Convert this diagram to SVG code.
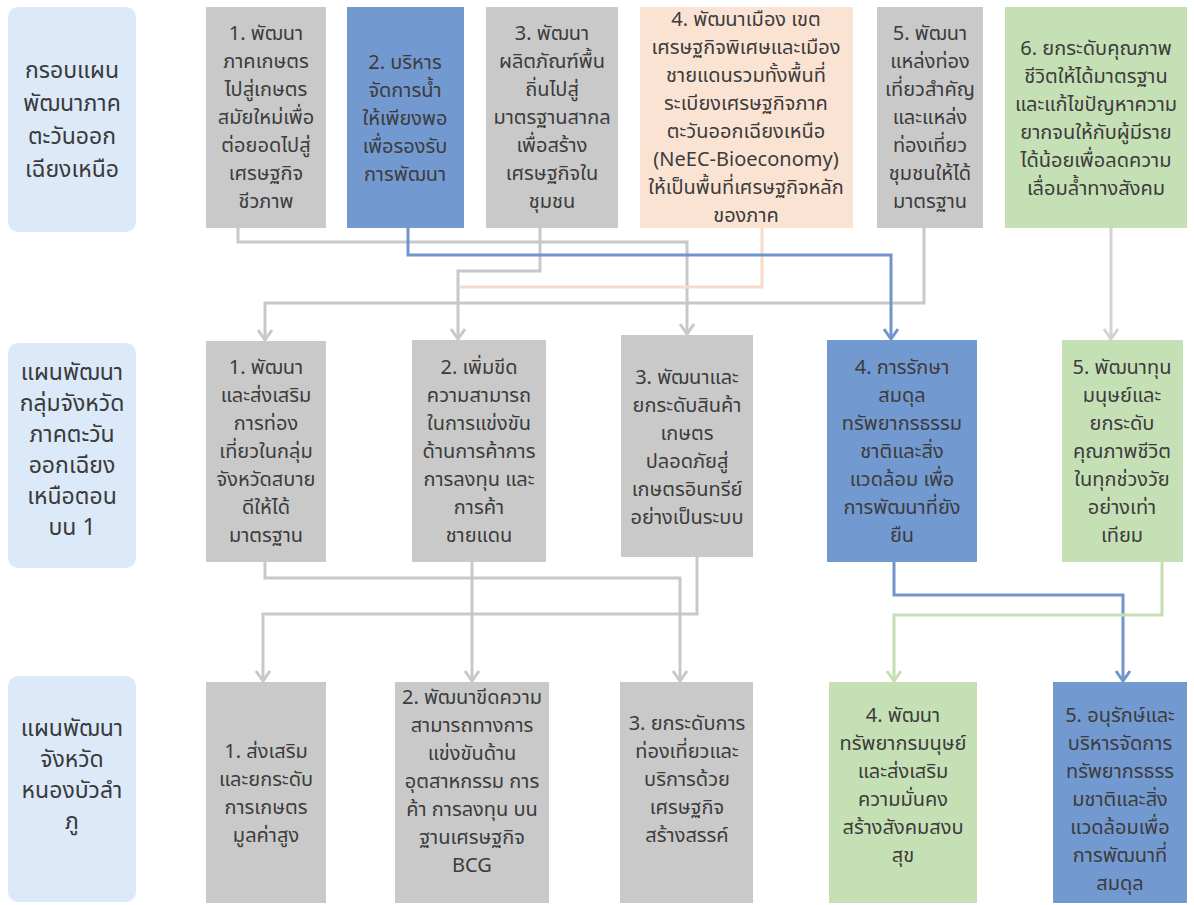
<svg xmlns="http://www.w3.org/2000/svg" width="1194" height="905" viewBox="0 0 1194 905">
<style>
text{font-family:"Noto Sans Thai","Noto Serif Thai","Loma","Garuda","Tahoma","Noto Sans",sans-serif;text-anchor:middle;fill:#3c3c3c}
.t{font-size:20px}
.lb{font-size:23px;fill:#3a3a3a}
.lab{fill:#dce9f9}
.g{fill:#c9c9c9}
.b{fill:#7399d1}
.p{fill:#fbe3d4}
.gr{fill:#c6e0b5}
.cg{fill:none;stroke:#c8c8c8;stroke-width:3}
.cb{fill:none;stroke:#7294cc;stroke-width:3}
.cp{fill:none;stroke:#f6dcc9;stroke-width:3}
.cn{fill:none;stroke:#c5dfb2;stroke-width:3}
.cl{fill:none;stroke:#d2d2d2;stroke-width:3}
</style>
<defs>
<marker id="ag" viewBox="-12 -9 14 18" markerWidth="14" markerHeight="18" markerUnits="userSpaceOnUse" refX="0" refY="0" orient="auto"><path d="M-10,-7 L0,0 L-10,7" fill="none" stroke="#c8c8c8" stroke-width="3"/></marker>
<marker id="ab" viewBox="-12 -9 14 18" markerWidth="14" markerHeight="18" markerUnits="userSpaceOnUse" refX="0" refY="0" orient="auto"><path d="M-10,-7 L0,0 L-10,7" fill="none" stroke="#7294cc" stroke-width="3"/></marker>
<marker id="an" viewBox="-12 -9 14 18" markerWidth="14" markerHeight="18" markerUnits="userSpaceOnUse" refX="0" refY="0" orient="auto"><path d="M-10,-7 L0,0 L-10,7" fill="none" stroke="#c5dfb2" stroke-width="3"/></marker>
<marker id="al" viewBox="-12 -9 14 18" markerWidth="14" markerHeight="18" markerUnits="userSpaceOnUse" refX="0" refY="0" orient="auto"><path d="M-10,-7 L0,0 L-10,7" fill="none" stroke="#d2d2d2" stroke-width="3"/></marker>
</defs>
<rect width="1194" height="905" fill="#ffffff"/>

<g id="connectors">
<path class="cg" d="M238 228 V242 H687 V334" marker-end="url(#ag)"/>
<path class="cp" d="M762 228 V287 H460"/>
<path class="cg" d="M540 228 V271 H458 V339" marker-end="url(#ag)"/>
<path class="cg" d="M924 228 V303 H265 V340" marker-end="url(#ag)"/>
<path class="cl" d="M1111 228 V339" marker-end="url(#al)"/>
<path class="cb" d="M408 228 V255 H891 V339" marker-end="url(#ab)"/>
<path class="cg" d="M265 562 V578 H680 V681" marker-end="url(#ag)"/>
<path class="cg" d="M472 562 V681" marker-end="url(#ag)"/>
<path class="cg" d="M697 557 V614 H263 V681" marker-end="url(#ag)"/>
<path class="cb" d="M894 562 V595 H1123 V681" marker-end="url(#ab)"/>
<path class="cn" d="M1162 562 V615 H894 V681" marker-end="url(#an)"/>
</g>

<g id="label1"><rect class="lab" x="8" y="7" width="128" height="225" rx="10"/>
<text class="lb"><tspan x="72" y="78">กรอบแผน</tspan><tspan x="72" y="111">พัฒนาภาค</tspan><tspan x="72" y="144">ตะวันออก</tspan><tspan x="72" y="177">เฉียงเหนือ</tspan></text></g>

<g id="n11"><rect class="g" x="206" y="7" width="120" height="221"/>
<text class="t"><tspan x="266" y="40">1. พัฒนา</tspan><tspan x="266" y="68">ภาคเกษตร</tspan><tspan x="266" y="96">ไปสู่เกษตร</tspan><tspan x="266" y="124">สมัยใหม่เพื่อ</tspan><tspan x="266" y="152">ต่อยอดไปสู่</tspan><tspan x="266" y="180">เศรษฐกิจ</tspan><tspan x="266" y="208">ชีวภาพ</tspan></text></g>

<g id="n12"><rect class="b" x="347" y="7" width="117" height="221"/>
<text class="t"><tspan x="405" y="69">2. บริหาร</tspan><tspan x="405" y="97">จัดการน้ำ</tspan><tspan x="405" y="125">ให้เพียงพอ</tspan><tspan x="405" y="153">เพื่อรองรับ</tspan><tspan x="405" y="181">การพัฒนา</tspan></text></g>

<g id="n13"><rect class="g" x="486" y="7" width="132" height="221"/>
<text class="t"><tspan x="552" y="40">3. พัฒนา</tspan><tspan x="552" y="68">ผลิตภัณฑ์พื้น</tspan><tspan x="552" y="96">ถิ่นไปสู่</tspan><tspan x="552" y="124">มาตรฐานสากล</tspan><tspan x="552" y="152">เพื่อสร้าง</tspan><tspan x="552" y="180">เศรษฐกิจใน</tspan><tspan x="552" y="208">ชุมชน</tspan></text></g>

<g id="n14"><rect class="p" x="640" y="7" width="213" height="221"/>
<text class="t"><tspan x="746" y="26">4. พัฒนาเมือง เขต</tspan><tspan x="746" y="54">เศรษฐกิจพิเศษและเมือง</tspan><tspan x="746" y="82">ชายแดนรวมทั้งพื้นที่</tspan><tspan x="746" y="110">ระเบียงเศรษฐกิจภาค</tspan><tspan x="746" y="138">ตะวันออกเฉียงเหนือ</tspan><tspan x="746" y="166">(NeEC-Bioeconomy)</tspan><tspan x="746" y="194">ให้เป็นพื้นที่เศรษฐกิจหลัก</tspan><tspan x="746" y="222">ของภาค</tspan></text></g>

<g id="n15"><rect class="g" x="877" y="7" width="106" height="221"/>
<text class="t"><tspan x="930" y="40">5. พัฒนา</tspan><tspan x="930" y="68">แหล่งท่อง</tspan><tspan x="930" y="96">เที่ยวสำคัญ</tspan><tspan x="930" y="124">และแหล่ง</tspan><tspan x="930" y="152">ท่องเที่ยว</tspan><tspan x="930" y="180">ชุมชนให้ได้</tspan><tspan x="930" y="208">มาตรฐาน</tspan></text></g>

<g id="n16"><rect class="gr" x="1005" y="7" width="182" height="221"/>
<text class="t"><tspan x="1096" y="55">6. ยกระดับคุณภาพ</tspan><tspan x="1096" y="83">ชีวิตให้ได้มาตรฐาน</tspan><tspan x="1096" y="111">และแก้ไขปัญหาความ</tspan><tspan x="1096" y="139">ยากจนให้กับผู้มีราย</tspan><tspan x="1096" y="167">ได้น้อยเพื่อลดความ</tspan><tspan x="1096" y="195">เลื่อมล้ำทางสังคม</tspan></text></g>

<g id="label2"><rect class="lab" x="8" y="343" width="128" height="225" rx="10"/>
<text class="lb"><tspan x="72" y="380">แผนพัฒนา</tspan><tspan x="72" y="411">กลุ่มจังหวัด</tspan><tspan x="72" y="442">ภาคตะวัน</tspan><tspan x="72" y="473">ออกเฉียง</tspan><tspan x="72" y="504">เหนือตอน</tspan><tspan x="72" y="535">บน 1</tspan></text></g>

<g id="n21"><rect class="g" x="206" y="341" width="120" height="221"/>
<text class="t"><tspan x="266" y="374">1. พัฒนา</tspan><tspan x="266" y="402">และส่งเสริม</tspan><tspan x="266" y="430">การท่อง</tspan><tspan x="266" y="458">เที่ยวในกลุ่ม</tspan><tspan x="266" y="486">จังหวัดสบาย</tspan><tspan x="266" y="514">ดีให้ได้</tspan><tspan x="266" y="542">มาตรฐาน</tspan></text></g>

<g id="n22"><rect class="g" x="412" y="340" width="134" height="222"/>
<text class="t"><tspan x="479" y="374">2. เพิ่มขีด</tspan><tspan x="479" y="402">ความสามารถ</tspan><tspan x="479" y="430">ในการแข่งขัน</tspan><tspan x="479" y="458">ด้านการค้าการ</tspan><tspan x="479" y="486">การลงทุน และ</tspan><tspan x="479" y="514">การค้า</tspan><tspan x="479" y="542">ชายแดน</tspan></text></g>

<g id="n23"><rect class="g" x="621" y="335" width="132" height="222"/>
<text class="t"><tspan x="687" y="384">3. พัฒนาและ</tspan><tspan x="687" y="412">ยกระดับสินค้า</tspan><tspan x="687" y="440">เกษตร</tspan><tspan x="687" y="468">ปลอดภัยสู่</tspan><tspan x="687" y="496">เกษตรอินทรีย์</tspan><tspan x="687" y="524">อย่างเป็นระบบ</tspan></text></g>

<g id="n24"><rect class="b" x="827" y="340" width="150" height="222"/>
<text class="t"><tspan x="902" y="374">4. การรักษา</tspan><tspan x="902" y="402">สมดุล</tspan><tspan x="902" y="430">ทรัพยากรธรรม</tspan><tspan x="902" y="458">ชาติและสิ่ง</tspan><tspan x="902" y="486">แวดล้อม เพื่อ</tspan><tspan x="902" y="514">การพัฒนาที่ยัง</tspan><tspan x="902" y="542">ยืน</tspan></text></g>

<g id="n25"><rect class="gr" x="1062" y="340" width="121" height="222"/>
<text class="t"><tspan x="1122" y="374">5. พัฒนาทุน</tspan><tspan x="1122" y="402">มนุษย์และ</tspan><tspan x="1122" y="430">ยกระดับ</tspan><tspan x="1122" y="458">คุณภาพชีวิต</tspan><tspan x="1122" y="486">ในทุกช่วงวัย</tspan><tspan x="1122" y="514">อย่างเท่า</tspan><tspan x="1122" y="542">เทียม</tspan></text></g>

<g id="label3"><rect class="lab" x="8" y="676" width="128" height="226" rx="10"/>
<text class="lb"><tspan x="72" y="736">แผนพัฒนา</tspan><tspan x="72" y="767">จังหวัด</tspan><tspan x="72" y="798">หนองบัวลำ</tspan><tspan x="72" y="829">ภู</tspan></text></g>

<g id="n31"><rect class="g" x="206" y="682" width="120" height="221"/>
<text class="t"><tspan x="266" y="758">1. ส่งเสริม</tspan><tspan x="266" y="786">และยกระดับ</tspan><tspan x="266" y="814">การเกษตร</tspan><tspan x="266" y="842">มูลค่าสูง</tspan></text></g>

<g id="n32"><rect class="g" x="395" y="682" width="154" height="221"/>
<text class="t"><tspan x="472" y="704">2. พัฒนาขีดความ</tspan><tspan x="472" y="732">สามารถทางการ</tspan><tspan x="472" y="760">แข่งขันด้าน</tspan><tspan x="472" y="788">อุตสาหกรรม การ</tspan><tspan x="472" y="816">ค้า การลงทุน บน</tspan><tspan x="472" y="844">ฐานเศรษฐกิจ</tspan><tspan x="472" y="872">BCG</tspan></text></g>

<g id="n33"><rect class="g" x="620" y="682" width="133" height="221"/>
<text class="t"><tspan x="687" y="730">3. ยกระดับการ</tspan><tspan x="687" y="758">ท่องเที่ยวและ</tspan><tspan x="687" y="786">บริการด้วย</tspan><tspan x="687" y="814">เศรษฐกิจ</tspan><tspan x="687" y="842">สร้างสรรค์</tspan></text></g>

<g id="n34"><rect class="gr" x="829" y="682" width="148" height="221"/>
<text class="t"><tspan x="903" y="722">4. พัฒนา</tspan><tspan x="903" y="750">ทรัพยากรมนุษย์</tspan><tspan x="903" y="778">และส่งเสริม</tspan><tspan x="903" y="806">ความมั่นคง</tspan><tspan x="903" y="834">สร้างสังคมสงบ</tspan><tspan x="903" y="862">สุข</tspan></text></g>

<g id="n35"><rect class="b" x="1053" y="682" width="134" height="221"/>
<text class="t"><tspan x="1120" y="722">5. อนุรักษ์และ</tspan><tspan x="1120" y="750">บริหารจัดการ</tspan><tspan x="1120" y="778">ทรัพยากรธรร</tspan><tspan x="1120" y="806">มชาติและสิ่ง</tspan><tspan x="1120" y="834">แวดล้อมเพื่อ</tspan><tspan x="1120" y="862">การพัฒนาที่</tspan><tspan x="1120" y="890">สมดุล</tspan></text></g>
</svg>
